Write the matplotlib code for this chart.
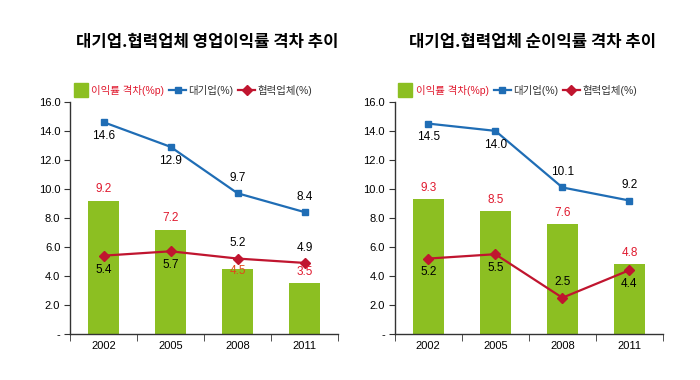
import numpy as np
import matplotlib.pyplot as plt
from matplotlib.lines import Line2D
from matplotlib.ticker import FixedLocator, FuncFormatter

plt.rcParams['font.family'] = ['Liberation Sans', 'Noto Sans CJK KR', 'DejaVu Sans']

years = ['2002', '2005', '2008', '2011']

# 영업이익률
op_gap = [9.2, 7.2, 4.5, 3.5]
op_large = [14.6, 12.9, 9.7, 8.4]
op_partner = [5.4, 5.7, 5.2, 4.9]

# 순이익률
net_gap = [9.3, 8.5, 7.6, 4.8]
net_large = [14.5, 14.0, 10.1, 9.2]
net_partner = [5.2, 5.5, 2.5, 4.4]

titles = ['대기업.협력업체 영업이익률 격차 추이', '대기업.협력업체 순이익률 격차 추이']

# label placement: +1 above the point, -1 below
op_large_pos = [-1, -1, 1, 1]
op_partner_pos = [-1, -1, 1, 1]
op_gap_pos = [1, 1, -1, 1]
net_large_pos = [-1, -1, 1, 1]
net_partner_pos = [-1, -1, 1, -1]
net_gap_pos = [1, 1, 1, 1]

GREEN = '#8cbf22'
BLUE = '#1f6db5'
RED = '#c0152f'
RED_TXT = '#e0192e'
AXIS = '#333333'

fig = plt.figure(figsize=(7, 3.8), dpi=100)

panels = [
    (0.1, op_gap, op_large, op_partner, op_gap_pos, op_large_pos, op_partner_pos),
    (0.564, net_gap, net_large, net_partner, net_gap_pos, net_large_pos, net_partner_pos),
]


def put_labels(ax, x, vals, pos, color, up=11, down=10):
    for xi, v, p in zip(x, vals, pos):
        off = up if p > 0 else -down
        ax.annotate(f'{v:.1f}', (xi, v), xytext=(0, off), textcoords='offset points',
                    ha='center', va='center', fontsize=8.5, color=color)


for i, (left, gap, large, partner, gpos, lpos, ppos) in enumerate(panels):
    ax = fig.add_axes([left, 0.121, 0.383, 0.611])
    x = np.arange(len(years))

    ax.bar(x, gap, width=0.46, color=GREEN, zorder=2)
    l1, = ax.plot(x, large, color=BLUE, lw=1.6, marker='s', ms=5, label='대기업(%)', zorder=3)
    l2, = ax.plot(x, partner, color=RED, lw=1.6, marker='D', ms=5, label='협력업체(%)', zorder=3)
    # square swatch for the bars in the legend
    sq = Line2D([], [], ls='none', marker='s', ms=9.5, color=GREEN, label='이익률 격차(%p)')

    put_labels(ax, x, large, lpos, 'black')
    put_labels(ax, x, partner, ppos, 'black')
    for xi, v, p in zip(x, gap, gpos):
        off = 8 if p > 0 else -2
        col = RED_TXT if p > 0 else '#e04a1a'
        ax.annotate(f'{v:.1f}', (xi, v), xytext=(0, off), textcoords='offset points',
                    ha='center', va='center', fontsize=8.5, color=col)

    ax.set_xlim(-0.5, 3.5)
    ax.set_ylim(0, 16)
    ax.yaxis.set_major_locator(FixedLocator(np.arange(0, 17, 2)))
    ax.yaxis.set_major_formatter(FuncFormatter(lambda v, _: '-' if v == 0 else f'{v:.1f}'))
    ax.set_xticks(x)
    ax.set_xticklabels(years)
    ax.set_xticks(np.arange(-0.5, 4, 1), minor=True)
    ax.tick_params(axis='x', which='major', length=0, labelsize=8, pad=5)
    ax.tick_params(axis='x', which='minor', length=5, direction='out', color=AXIS)
    ax.tick_params(axis='y', length=4, direction='out', labelsize=8, color=AXIS, pad=3)
    for s in ['top', 'right']:
        ax.spines[s].set_visible(False)
    for s in ['left', 'bottom']:
        ax.spines[s].set_color(AXIS)
        ax.spines[s].set_linewidth(1)

    leg = ax.legend(handles=[sq, l1, l2], loc='lower left', bbox_to_anchor=(-0.015, 1.0), ncol=3,
                    frameon=False, handlelength=1.6, handletextpad=0.25, columnspacing=0.45,
                    borderaxespad=0.2, prop={'family': ['Liberation Sans', 'Noto Sans CJK KR'], 'size': 7.5})
    leg.get_texts()[0].set_color(RED_TXT)
    leg.get_texts()[1].set_color('#333333')
    leg.get_texts()[2].set_color('#333333')

    cx = left + 0.383 / 2 + 0.005
    fig.text(cx, 0.89, titles[i], ha='center', va='center', fontsize=12, fontweight='bold',
             family=['Noto Sans CJK KR'])

fig.savefig('out.png', dpi=100)
